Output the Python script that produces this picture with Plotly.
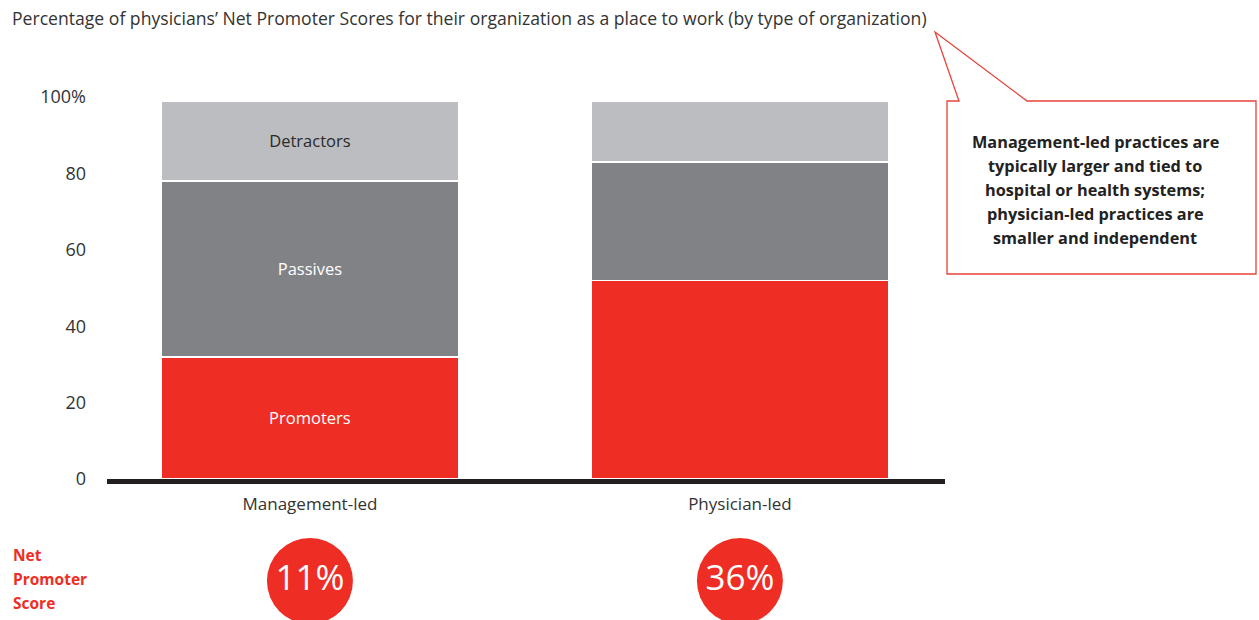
import plotly.graph_objects as go

W, H = 1259, 620

categories = ["Management-led", "Physician-led"]
promoters = [32, 52]
passives = [46, 31]
detractors = [21, 16]
nps = [11, 36]
segment_labels_first = {"Promoters": "Promoters", "Passives": "Passives", "Detractors": "Detractors"}
y_ticks = [0, 20, 40, 60, 80, 100]
y_tick_labels = ["0", "20", "40", "60", "80", "100%"]

title_text = "Percentage of physicians\u2019 Net Promoter Scores for their organization as a place to work (by type of organization)"
callout_lines = ["Management-led practices are", "typically larger and tied to",
                 "hospital or health systems;", "physician-led practices are",
                 "smaller and independent"]
nps_label_lines = ["Net", "Promoter", "Score"]

RED = "#EE2E24"
DARK_GRAY = "#818286"
LIGHT_GRAY = "#BCBDC0"
TXT = "#333333"
FONT = "Open Sans"


def px(x):
    return x / W


def py(y):
    return 1 - y / H


fig = go.Figure()

series = [
    ("Promoters", promoters, RED, "white"),
    ("Passives", passives, DARK_GRAY, "white"),
    ("Detractors", detractors, LIGHT_GRAY, "#2a2a2a"),
]
for name, vals, col, tcol in series:
    fig.add_trace(go.Bar(
        x=categories, y=vals, name=name,
        marker=dict(color=col, line=dict(color="white", width=1.5)),
        text=[segment_labels_first[name], ""],
        textposition="inside", insidetextanchor="middle",
        textfont=dict(color=tcol, size=16.5, family=FONT),
        constraintext="none",
        width=0.693, hoverinfo="skip",
    ))

# NPS circles on a hidden secondary y axis placed below the bars
plot_top, plot_bot = 97, 479
fig.add_trace(go.Scatter(
    x=categories, y=[0.5] * len(categories),
    xaxis="x", yaxis="y2",
    mode="markers+text",
    marker=dict(size=86, color=RED, line=dict(width=0)),
    text=[f"{v}%" for v in nps],
    textposition="middle center",
    textfont=dict(color="white", size=35, family=FONT),
    cliponaxis=False, hoverinfo="skip", showlegend=False,
))

fig.update_layout(
    width=W, height=H,
    barmode="stack",
    showlegend=False,
    plot_bgcolor="white", paper_bgcolor="white",
    margin=dict(l=0, r=0, t=0, b=0, autoexpand=False),
    font=dict(family=FONT, color=TXT, size=17),
    xaxis=dict(
        domain=[px(107), px(945)],
        range=[-0.472, 1.477],
        showline=True, linecolor="#231f20", linewidth=5,
        showgrid=False, zeroline=False,
        ticks="", ticklabelstandoff=6,
        tickfont=dict(size=17, color=TXT, family=FONT),
        fixedrange=True, automargin=False,
    ),
    yaxis=dict(
        domain=[py(plot_bot), py(plot_top)],
        range=[0, 100],
        tickvals=y_ticks, ticktext=y_tick_labels,
        showline=False, showgrid=False, zeroline=False,
        ticks="", ticklabelstandoff=20,
        tickfont=dict(size=18, color=TXT, family=FONT),
        fixedrange=True, automargin=False,
    ),
    yaxis2=dict(
        domain=[py(620), py(542)],
        range=[0.0, 1.0],
        anchor="free", position=0,
        visible=False, fixedrange=True,
    ),
)

# Title
fig.add_annotation(
    x=px(10), y=py(18), xref="paper", yref="paper",
    xanchor="left", yanchor="middle",
    text=title_text, showarrow=False,
    font=dict(size=17.6, color=TXT, family=FONT),
)

# Callout box with pointer
path = (f"M {px(947)},{py(101)} L {px(959)},{py(101)} L {px(935)},{py(32)} L {px(1027)},{py(101)} "
        f"L {px(1256)},{py(101)} L {px(1256)},{py(274)} L {px(947)},{py(274)} Z")
fig.add_shape(type="path", path=path, xref="paper", yref="paper",
              line=dict(color="#E8433A", width=1.3), fillcolor="white")

for i, line in enumerate(callout_lines):
    fig.add_annotation(
        x=px(1095), y=py(142 + 24 * i), xref="paper", yref="paper",
        xanchor="center", yanchor="middle", align="center",
        text="<b>" + line + "</b>", showarrow=False,
        font=dict(size=16.3, color="#222222", family=FONT),
    )

# Net Promoter Score label
for i, line in enumerate(nps_label_lines):
    fig.add_annotation(
        x=px(11), y=py(555 + 24 * i), xref="paper", yref="paper",
        xanchor="left", yanchor="middle", align="left",
        text="<b>" + line + "</b>", showarrow=False,
        font=dict(size=15.5, color=RED, family=FONT),
    )

fig.write_html("out.html", config={"displayModeBar": False},
               post_script="document.body.style.margin='0px';")
